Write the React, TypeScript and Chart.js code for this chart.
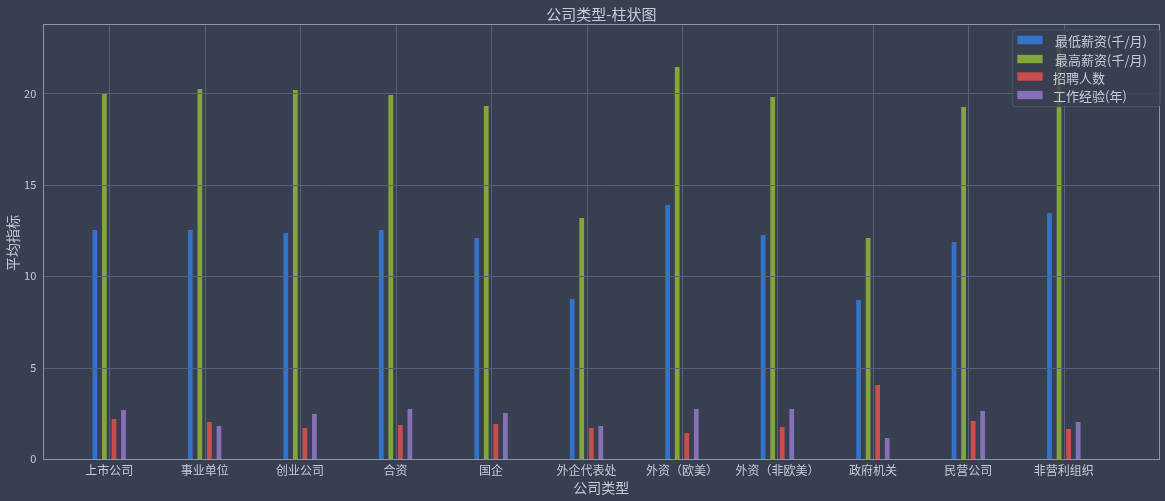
import React, { useEffect, useRef } from 'react';
import { Chart, registerables } from 'chart.js';

Chart.register(...registerables);

const categories = ['上市公司', '事业单位', '创业公司', '合资', '国企', '外企代表处', '外资（欧美）', '外资（非欧美）', '政府机关', '民营公司', '非营利组织'];
const minSalary = [12.53, 12.53, 12.36, 12.53, 12.09, 8.75, 13.9, 12.25, 8.7, 11.87, 13.46];
const maxSalary = [19.97, 20.24, 20.19, 19.91, 19.31, 13.18, 21.44, 19.8, 12.09, 19.26, 22.6];
const hires = [2.19, 2.02, 1.7, 1.86, 1.91, 1.7, 1.42, 1.75, 4.05, 2.08, 1.64];
const experience = [2.68, 1.8, 2.46, 2.74, 2.52, 1.8, 2.74, 2.74, 1.15, 2.63, 2.02];
const seriesNames = ['最低薪资(千/月)', '最高薪资(千/月)', '招聘人数', '工作经验(年)'];
const yTickValues = [0, 5, 10, 15, 20];

const titleText = '公司类型-柱状图';
const xTitle = '公司类型';
const yTitle = '平均指标';

const BG = '#373f51';
const GRID = '#566078';
const SPINE = '#8b97b0';
const TEXT = '#c6ccd8';
const COLORS = ['#3373c9', '#82a63a', '#c94f4f', '#8670b6'];
const FONT = "'Noto Sans CJK SC', 'Noto Sans', sans-serif";

export default function App() {
  const ref = useRef<HTMLCanvasElement>(null);

  useEffect(() => {
    document.body.style.margin = '0';
    document.body.style.background = BG;
    const values = [minSalary, maxSalary, hires, experience];

    const bgPlugin = {
      id: 'bg',
      beforeDraw(chart: any) {
        const { ctx, width, height } = chart;
        ctx.save();
        ctx.fillStyle = BG;
        ctx.fillRect(0, 0, width, height);
        ctx.restore();
      },
    };

    const overlayPlugin = {
      id: 'overlay',
      afterDatasetsDraw(chart: any) {
        const { ctx, chartArea } = chart;
        const { left, right, top, bottom } = chartArea;
        const xs = chart.scales.x;
        const ys = chart.scales.y;
        ctx.save();
        ctx.strokeStyle = GRID;
        ctx.lineWidth = 1;
        ctx.beginPath();
        yTickValues.forEach((v) => {
          const y = Math.round(ys.getPixelForValue(v)) + 0.5;
          ctx.moveTo(left, y);
          ctx.lineTo(right, y);
        });
        categories.forEach((_, i) => {
          const x = Math.round(xs.getPixelForValue(i)) + 0.5;
          ctx.moveTo(x, top);
          ctx.lineTo(x, bottom);
        });
        ctx.stroke();

        ctx.strokeStyle = SPINE;
        ctx.strokeRect(Math.round(left) + 0.5, Math.round(top) + 0.5, Math.round(right - left), Math.round(bottom - top));

        // title + axis titles
        ctx.fillStyle = TEXT;
        ctx.textAlign = 'center';
        ctx.textBaseline = 'middle';
        ctx.font = `15px ${FONT}`;
        ctx.fillText(titleText, (left + right) / 2, 14);
        ctx.font = `14px ${FONT}`;
        ctx.fillText(xTitle, (left + right) / 2, 488);
        ctx.save();
        ctx.translate(13, 243);
        ctx.rotate(-Math.PI / 2);
        ctx.fillText(yTitle, 0, 0);
        ctx.restore();

        // legend
        const lx = 1012.3, ly = 30, lw = 148, lh = 76.7;
        ctx.beginPath();
        ctx.roundRect(lx, ly, lw, lh, 3);
        ctx.fillStyle = 'rgba(56,63,81,0.82)';
        ctx.fill();
        ctx.strokeStyle = '#4b5468';
        ctx.stroke();
        const swatchY = [40, 59, 76.5, 95];
        const textY = [41.5, 60.5, 78, 96.5];
        const textX = [1055, 1055, 1053, 1053];
        ctx.font = `13px ${FONT}`;
        ctx.textAlign = 'left';
        seriesNames.forEach((name, i) => {
          ctx.fillStyle = COLORS[i];
          ctx.fillRect(1017.3, swatchY[i] - 4.2, 25.4, 8.4);
          ctx.fillStyle = TEXT;
          ctx.fillText(name, textX[i], textY[i]);
        });
        ctx.restore();
      },
    };

    const chart = new Chart(ref.current!, {
      type: 'bar',
      data: {
        datasets: seriesNames.map((name, k) => ({
          label: name,
          data: values[k].map((v, i) => ({ x: i, y: v })),
          backgroundColor: COLORS[k],
          borderWidth: 0,
          categoryPercentage: 0.4,
          barPercentage: 0.5,
        })),
      },
      options: {
        animation: false,
        responsive: false,
        maintainAspectRatio: false,
        layout: { padding: { left: 0, right: 5.7, top: 24.3, bottom: 0 } },
        plugins: {
          legend: { display: false },
          title: { display: false },
          tooltip: { enabled: false },
        },
        scales: {
          x: {
            type: 'linear',
            offset: false,
            min: -0.69,
            max: 11.0,
            grid: { display: false, drawTicks: false, offset: false },
            border: { display: false },
            ticks: {
              padding: 4.5,
              color: TEXT,
              autoSkip: false,
              maxRotation: 0,
              font: { family: FONT, size: 12 },
              callback: (v: any) => categories[v] ?? '',
            },
            afterBuildTicks: (s: any) => {
              s.ticks = categories.map((_, i) => ({ value: i }));
            },
            afterFit: (s: any) => {
              s.height = 42;
            },
          },
          y: {
            type: 'linear',
            min: 0,
            max: 23.78,
            grid: { display: false, drawTicks: false },
            border: { display: false },
            ticks: {
              padding: 7,
              color: TEXT,
              font: { family: FONT, size: 11 },
            },
            afterBuildTicks: (s: any) => {
              s.ticks = yTickValues.map((v) => ({ value: v }));
            },
            afterFit: (s: any) => {
              s.width = 43.3;
            },
          },
        },
      } as any,
      plugins: [bgPlugin, overlayPlugin],
    });
    return () => chart.destroy();
  }, []);

  return (
    <div style={{ width: 1165, height: 501 }}>
      <canvas ref={ref} width={1165} height={501} style={{ display: 'block' }} />
    </div>
  );
}
